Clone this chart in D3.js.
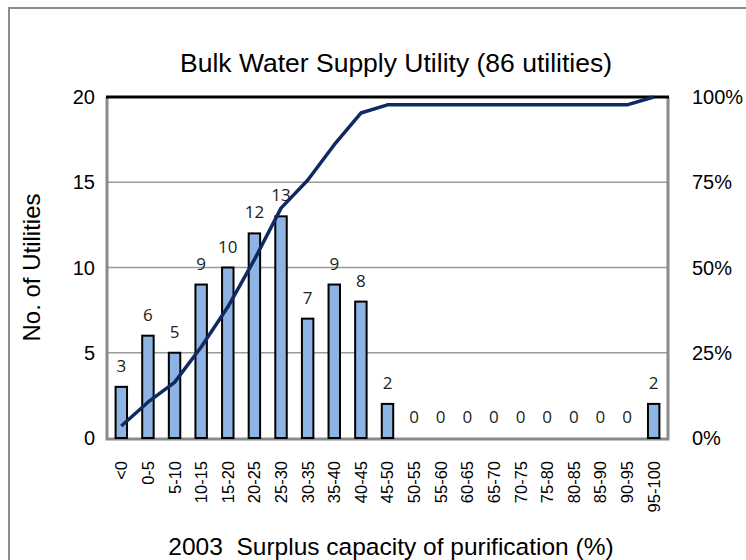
<!DOCTYPE html>
<html>
<head>
<meta charset="utf-8">
<script src="https://cdn.jsdelivr.net/npm/d3@7/dist/d3.min.js"></script>
<style>
  html, body { margin: 0; padding: 0; background: #fff; }
  svg { display: block; }
</style>
</head>
<body>
<svg id="chart" width="746" height="560"></svg>
<script>
// ---- data ----
const categories = ["<0","0-5","5-10","10-15","15-20","20-25","25-30","30-35","35-40","40-45","45-50","50-55","55-60","60-65","65-70","70-75","75-80","80-85","85-90","90-95","95-100"];
const counts = [3, 6, 5, 9, 10, 12, 13, 7, 9, 8, 2, 0, 0, 0, 0, 0, 0, 0, 0, 0, 2];
const cumulativePct = [3.5, 10.5, 16.3, 26.7, 38.4, 52.3, 67.4, 75.6, 86.0, 95.3, 97.7, 97.7, 97.7, 97.7, 97.7, 97.7, 97.7, 97.7, 97.7, 97.7, 100];
const leftTicks = [0, 5, 10, 15, 20];
const rightTicks = [0, 25, 50, 75, 100];
const title = "Bulk Water Supply Utility (86 utilities)";
const yTitle = "No. of Utilities";
const xTitle = "2003  Surplus capacity of purification (%)";

// ---- layout ----
const svg = d3.select("#chart");
const L = 108, R = 667, T = 97, B = 438;

const x = d3.scaleBand().domain(categories).range([L, R]).paddingInner(0.57).paddingOuter(0.285);
const y = d3.scaleLinear().domain([0, 20]).range([B, T]);
const yR = d3.scaleLinear().domain([0, 100]).range([B, T]);
const cx = d => x(d) + x.bandwidth() / 2;

// outer frame
svg.append("rect").attr("x", 9).attr("y", 8).attr("width", 760).attr("height", 580)
  .attr("fill", "none").attr("stroke", "#8c8c8c").attr("stroke-width", 2);

// title
svg.append("text").attr("x", 396).attr("y", 72).attr("text-anchor", "middle")
  .attr("font-family", "Liberation Sans, Arial, sans-serif").attr("font-size", 26.5)
  .attr("fill", "#000").text(title);

// gridlines
svg.append("g").selectAll("line").data(leftTicks.filter(t => t > 0 && t < 20)).join("line")
  .attr("x1", L).attr("x2", R).attr("y1", d => y(d)).attr("y2", d => y(d))
  .attr("stroke", "#9a9a9a").attr("stroke-width", 1.5);

// plot border (gray left/right/bottom)
svg.append("path")
  .attr("d", `M${L - 1},${T} L${L - 1},${B + 1} L${R + 1},${B + 1} L${R + 1},${T}`)
  .attr("fill", "none").attr("stroke", "#8a8a8a").attr("stroke-width", 3);
// top line at 20
svg.append("line").attr("x1", L - 2).attr("x2", R + 2).attr("y1", y(20)).attr("y2", y(20))
  .attr("stroke", "#000").attr("stroke-width", 3);

// bars
svg.append("g").selectAll("rect").data(categories).join("rect")
  .attr("x", d => x(d)).attr("width", x.bandwidth())
  .attr("y", (d, i) => y(counts[i])).attr("height", (d, i) => B - y(counts[i]))
  .attr("fill", "#8db4e2").attr("stroke", "#000").attr("stroke-width", 2)
  .style("display", (d, i) => counts[i] > 0 ? null : "none");

// bar labels
svg.append("g").selectAll("text").data(categories).join("text")
  .attr("x", d => cx(d)).attr("y", (d, i) => y(counts[i]) - 15)
  .attr("text-anchor", "middle")
  .attr("font-family", "Open Sans, sans-serif").attr("font-size", 17).attr("fill", "#222")
  .text((d, i) => counts[i]);

// cumulative line
const line = d3.line().x((d, i) => cx(categories[i])).y(d => yR(d));
svg.append("path").datum(cumulativePct).attr("d", line)
  .attr("fill", "none").attr("stroke", "#0f2a63").attr("stroke-width", 3.5)
  .attr("stroke-linejoin", "round");

// left axis labels
svg.append("g").selectAll("text").data(leftTicks).join("text")
  .attr("x", 95).attr("y", d => y(d)).attr("dy", "0.36em").attr("text-anchor", "end")
  .attr("font-family", "Liberation Sans, Arial, sans-serif").attr("font-size", 20)
  .text(d => d);

// right axis labels
svg.append("g").selectAll("text").data(rightTicks).join("text")
  .attr("x", 692).attr("y", d => yR(d)).attr("dy", "0.36em").attr("text-anchor", "start")
  .attr("font-family", "Liberation Sans, Arial, sans-serif").attr("font-size", 20)
  .text(d => d + "%");

// x tick labels (rotated)
svg.append("g").selectAll("text").data(categories).join("text")
  .attr("transform", d => `translate(${cx(d)},461) rotate(-90)`)
  .attr("text-anchor", "end").attr("dy", "0.36em")
  .attr("font-family", "Liberation Sans, Arial, sans-serif").attr("font-size", 16.5)
  .text(d => d);

// axis titles
svg.append("text").attr("transform", `translate(40,${(T + B) / 2}) rotate(-90)`)
  .attr("text-anchor", "middle")
  .attr("font-family", "Liberation Sans, Arial, sans-serif").attr("font-size", 24)
  .text(yTitle);

svg.append("text").attr("x", 391).attr("y", 555).attr("text-anchor", "middle")
  .attr("font-family", "Liberation Sans, Arial, sans-serif").attr("font-size", 24.5)
  .style("white-space", "pre")
  .text(xTitle);
</script>
</body>
</html>
